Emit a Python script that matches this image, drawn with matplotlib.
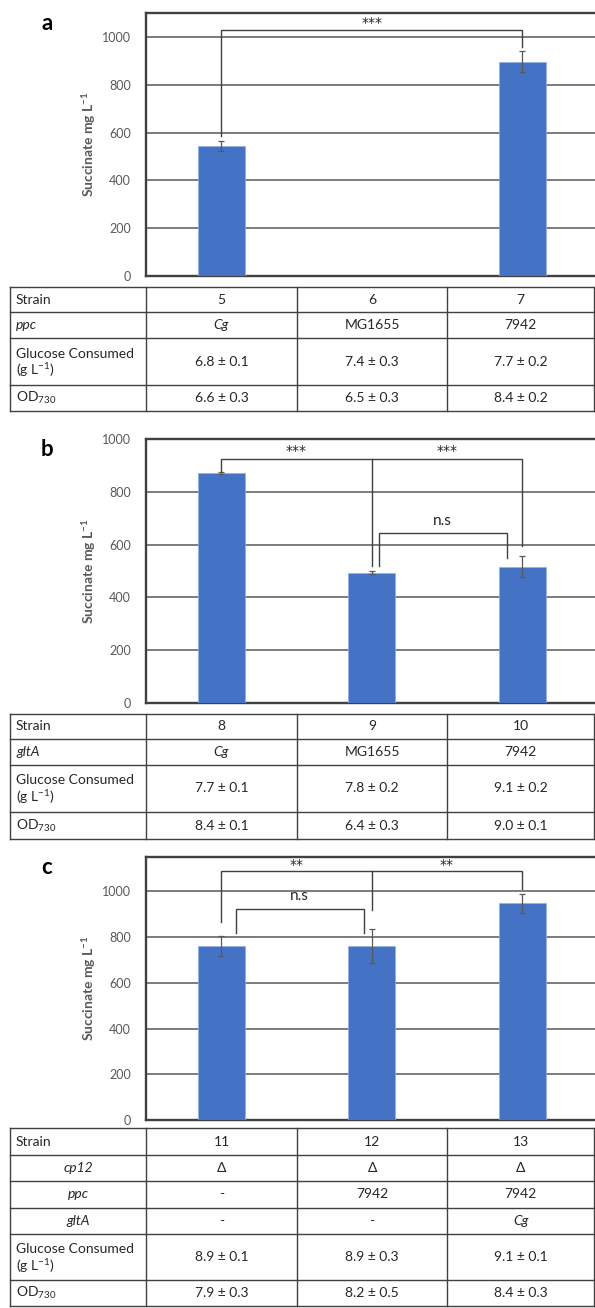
import matplotlib
matplotlib.use("Agg")
import matplotlib.pyplot as plt
import numpy as np

plt.rcParams["font.family"] = ["Lato", "DejaVu Sans"]
plt.rcParams["mathtext.fontset"] = "custom"
plt.rcParams["mathtext.rm"] = "Lato"
plt.rcParams["mathtext.it"] = "Lato:italic"
plt.rcParams["mathtext.bf"] = "Lato:bold"

# ---- data ---------------------------------------------------------------
strains_a = ["5", "6", "7"]
succ_a = [543, 0, 896]
err_a = [21, 0, 44]
ppc_a = ["Cg", "MG1655", "7942"]
glc_a = ["6.8 ± 0.1", "7.4 ± 0.3", "7.7 ± 0.2"]
od_a = ["6.6 ± 0.3", "6.5 ± 0.3", "8.4 ± 0.2"]

strains_b = ["8", "9", "10"]
succ_b = [872, 494, 516]
err_b = [3, 5, 40]
glta_b = ["Cg", "MG1655", "7942"]
glc_b = ["7.7 ± 0.1", "7.8 ± 0.2", "9.1 ± 0.2"]
od_b = ["8.4 ± 0.1", "6.4 ± 0.3", "9.0 ± 0.1"]

strains_c = ["11", "12", "13"]
succ_c = [761, 761, 947]
err_c = [42, 73, 43]
cp12_c = ["Δ", "Δ", "Δ"]
ppc_c = ["-", "7942", "7942"]
glta_c = ["-", "-", "Cg"]
glc_c = ["8.9 ± 0.1", "8.9 ± 0.3", "9.1 ± 0.1"]
od_c = ["7.9 ± 0.3", "8.2 ± 0.5", "8.4 ± 0.3"]

# brackets: (x_left, x_right, y_bar, y_leg_left, y_leg_right, mid_x, y_leg_mid)
brackets_a = [(0, 2, 1030, 585, 957, None, None)]
labels_a = [(1, 1058, "***")]
brackets_b = [(0, 2, 925, 880, 595, 1, 520),
              (1.05, 1.9, 643, 520, 551, None, None)]
labels_b = [(0.5, 956, "***"), (1.5, 956, "***"), (1.47, 690, "n.s")]
brackets_c = [(0, 2, 1089, 866, 1012, 1, 917),
              (0.1, 0.95, 923, 818, 818, None, None)]
labels_c = [(0.5, 1113, "**"), (1.5, 1113, "**"), (0.52, 980, "n.s")]

# ---- layout (pixels) ----------------------------------------------------
W, H = 595, 1308
fig = plt.figure(figsize=(W / 100, H / 100), dpi=100)

BAR = "#4472C4"
GRID = "#595959"
TXT = "#262626"
TICK = "#595959"
LINE = "#404040"


def px_axes(left, top, right, bottom):
    return fig.add_axes([left / W, 1 - bottom / H, (right - left) / W, (bottom - top) / H])


def chart(top, bottom, ymax, values, errs, letter, brackets, labels):
    ax = px_axes(146, top, 597.5, bottom)
    x = np.arange(len(values))
    ax.bar(x, values, width=0.31, color=BAR, edgecolor="#8fb0e6", linewidth=0.5, zorder=3)
    for xi, v, e in zip(x, values, errs):
        if e > 0:
            ax.errorbar(xi, v, yerr=e, fmt="none", ecolor="#595959", elinewidth=0.9,
                        capsize=2, capthick=0.9, zorder=4)
    ax.set_xlim(-0.5, 2.5)
    ax.set_ylim(0, ymax)
    ax.set_yticks(range(0, 1001, 200))
    ax.set_xticks([])
    ax.tick_params(axis="y", length=0, pad=11, labelsize=9, labelcolor=TICK)
    ax.grid(True, axis="y", color=GRID, linewidth=1.1, zorder=0)
    for s in ax.spines.values():
        s.set_color(LINE)
        s.set_linewidth(1.7)
    ax.set_ylabel("Succinate mg L$^{\\mathbf{-1}}$", fontsize=10, fontweight="bold",
                  color=TICK, labelpad=3)
    for xl, xr, yb, yl, yr, xm, ym in brackets:
        ax.plot([xl, xl, xr, xr], [yl, yb, yb, yr], color=LINE, lw=1.0, zorder=5,
                solid_joinstyle="miter")
        if xm is not None:
            ax.plot([xm, xm], [yb, ym], color=LINE, lw=1.0, zorder=5)
    for xt, yt, lab in labels:
        if "*" in lab:
            ax.text(xt, yt, lab, ha="center", va="center", fontsize=10, color=TXT,
                    family="DejaVu Sans")
        else:
            ax.text(xt, yt, lab, ha="center", va="center", fontsize=11, color=TXT)
    fig.text(47 / W, 1 - (top + 10) / H, letter, fontsize=16, fontweight="bold",
             ha="center", va="center")
    return ax


ax_a = chart(13, 276, 1100, succ_a, err_a, "a", brackets_a, labels_a)
ax_b = chart(439, 703, 1000, succ_b, err_b, "b", brackets_b, labels_b)
ax_c = chart(857, 1120, 1150, succ_c, err_c, "c", brackets_c, labels_c)

# ---- tables -------------------------------------------------------------
tab = fig.add_axes([0, 0, 1, 1])
tab.set_xlim(0, W)
tab.set_ylim(H, 0)
tab.axis("off")

COLS = [10, 146, 297, 447, 594]
FS = 10


def cell_text(x, y, s, ha="center", italic=False):
    tab.text(x, y, s, ha=ha, va="center", fontsize=FS, color=TXT,
             style="italic" if italic else "normal")


def table(top, rows):
    # rows: (label, label_italic, label_centered, values, value_italics, height)
    y = top
    edges = [top]
    for label, lit, lcen, vals, vit, h in rows:
        mid = y + h / 2
        if label == "GLUCOSE":
            tab.text(COLS[0] + 6, mid - 8, "Glucose Consumed", ha="left", va="center",
                     fontsize=FS, color=TXT)
            tab.text(COLS[0] + 6, mid + 9, "(g L$^{-1}$)", ha="left", va="center",
                     fontsize=FS, color=TXT)
        elif lcen:
            cell_text((COLS[0] + COLS[1]) / 2, mid, label, italic=lit)
        else:
            cell_text(COLS[0] + 6, mid, label, ha="left", italic=lit)
        for i, v in enumerate(vals):
            cell_text((COLS[i + 1] + COLS[i + 2]) / 2, mid, v, italic=(v in vit))
        y += h
        edges.append(y)
    for e in edges:
        tab.plot([COLS[0], COLS[-1]], [e, e], color=LINE, lw=1.0)
    for c in COLS:
        tab.plot([c, c], [top, y], color=LINE, lw=1.0)


table(287, [
    ("Strain", False, False, strains_a, [], 25),
    ("ppc", True, False, ppc_a, ["Cg"], 26),
    ("GLUCOSE", False, False, glc_a, [], 47),
    ("OD$_{730}$", False, False, od_a, [], 26),
])
table(714, [
    ("Strain", False, False, strains_b, [], 25),
    ("gltA", True, False, glta_b, ["Cg"], 26),
    ("GLUCOSE", False, False, glc_b, [], 47),
    ("OD$_{730}$", False, False, od_b, [], 27),
])
table(1128, [
    ("Strain", False, False, strains_c, [], 27),
    ("cp12", True, True, cp12_c, [], 26),
    ("ppc", True, True, ppc_c, [], 27),
    ("gltA", True, True, glta_c, ["Cg"], 26),
    ("GLUCOSE", False, False, glc_c, [], 46),
    ("OD$_{730}$", False, False, od_c, [], 26),
])

fig.savefig("out.png", dpi=100)
